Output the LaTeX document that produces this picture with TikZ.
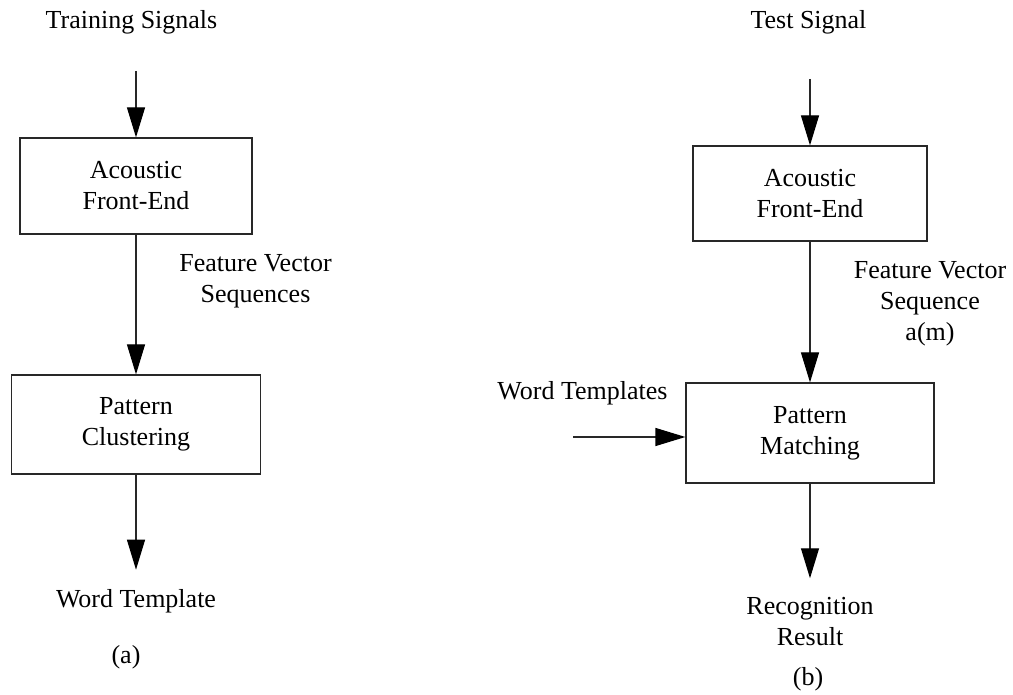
\documentclass[tikz,border=0pt]{standalone}
\usepackage{fontspec}
\setmainfont{Liberation Serif}
\usepackage{tikz}
\usetikzlibrary{arrows.meta}
\usepackage{xcolor}
\definecolor{lineGray}{RGB}{40,40,40}

\begin{document}
\begin{tikzpicture}[
  x=1pt, y=-1pt,
  font=\fontsize{26}{31}\selectfont,
  box/.style={rectangle, draw=lineGray, line width=1.2pt,
              minimum width=#1, align=center, inner sep=0pt},
  lbl/.style={align=center, inner sep=0pt},
  outlbl/.style={lbl, outer sep=19.5pt},
  arr/.style={-{Triangle[length=30pt,width=18pt,fill=black,color=black]},
              line width=1.2pt, lineGray}
]
  \useasboundingbox (0,0) rectangle (1013,695);

  % (a) training
  \node[lbl] (tsig) at (131.5,22) {Training Signals};
  \coordinate (ts0) at (136,71);
  \node[box=232pt, minimum height=96pt] (fe1) at (136,186)
    {Acoustic\\Front-End};
  \node[lbl] (fv1) at (255.5,281) {Feature Vector\\Sequences};
  \node[box=249pt, minimum height=99pt] (pc1) at (136,424.5)
    {Pattern\\Clustering};
  \node[outlbl] (wt1) at (136,601) {Word Template};
  \node[lbl] (capA) at (126,657) {(a)};
  \draw[arr] (ts0) -- (fe1);
  \draw[arr] (fe1) -- (pc1);
  \draw[arr] (pc1) -- (wt1);

  % (b) recognition
  \node[lbl] (tst) at (808.5,22) {Test Signal};
  \coordinate (ts1) at (810,79);
  \node[box=234pt, minimum height=95pt] (fe2) at (810,193.5)
    {Acoustic\\Front-End};
  \node[lbl] (fv2) at (930,304) {Feature Vector\\Sequence\\a(m)};
  \node[box=248pt, minimum height=100pt] (pm2) at (810,433)
    {Pattern\\Matching};
  \node[lbl] (wts) at (582.5,393) {Word Templates};
  \coordinate (wt0) at (573,437);
  \node[outlbl] (rr2) at (810,622) {Recognition\\Result};
  \node[lbl] (capB) at (808,679) {(b)};
  \draw[arr] (ts1) -- (fe2);
  \draw[arr] (fe2) -- (pm2);
  \draw[arr] (wt0) -- (pm2.west |- wt0);
  \draw[arr] (pm2) -- (rr2);
\end{tikzpicture}
\end{document}
